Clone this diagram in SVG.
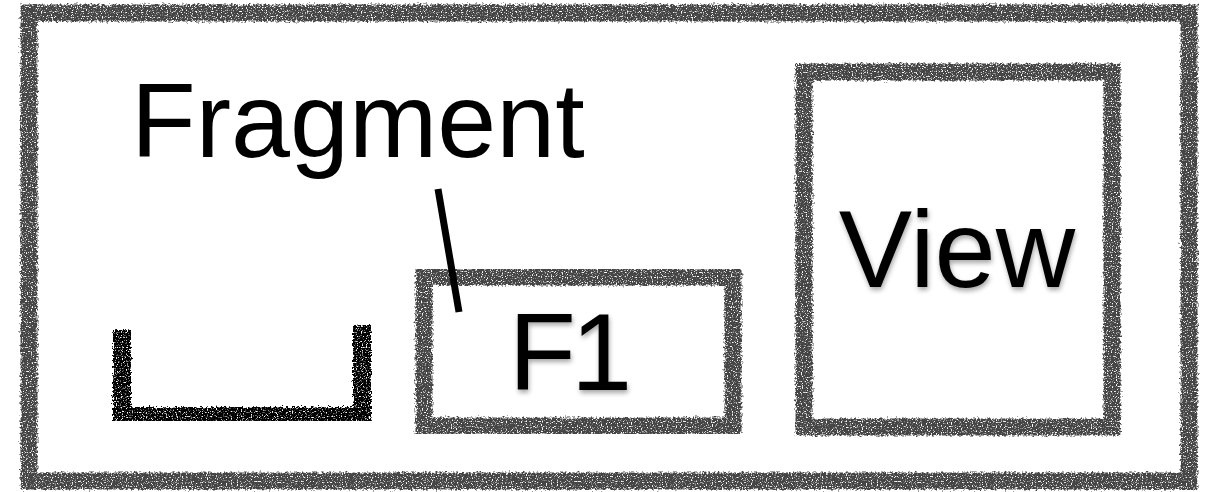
<svg xmlns="http://www.w3.org/2000/svg" width="1210" height="492" viewBox="0 0 1210 492">
  <defs>
    <!-- chalky, ragged stroke edges -->
    <filter id="chalk" x="-5%" y="-5%" width="110%" height="110%">
      <feTurbulence type="fractalNoise" baseFrequency="0.45" numOctaves="2" seed="3" result="noise"/>
      <feDisplacementMap in="SourceGraphic" in2="noise" scale="6" xChannelSelector="R" yChannelSelector="G" result="rough"/>
      <feTurbulence type="fractalNoise" baseFrequency="0.8" numOctaves="1" seed="7" result="grain"/>
      <feColorMatrix in="grain" type="matrix" values="0 0 0 0 0  0 0 0 0 0  0 0 0 0 0  0 0 0 -6 4.3" result="mask"/>
      <feComposite in="rough" in2="mask" operator="in"/>
    </filter>
    <filter id="soft" x="-10%" y="-10%" width="120%" height="130%">
      <feGaussianBlur in="SourceAlpha" stdDeviation="2.5"/>
      <feOffset dx="1" dy="3" result="b"/>
      <feComponentTransfer><feFuncA type="linear" slope="0.35"/></feComponentTransfer>
      <feMerge><feMergeNode/><feMergeNode in="SourceGraphic"/></feMerge>
    </filter>
  </defs>
  <style>
    .box { fill: none; stroke: #444; stroke-width: 17; filter: url(#chalk); }
    .label { font-family: "Liberation Sans", Arial, sans-serif; fill: #000; }
  </style>
  <rect width="1210" height="492" fill="#fff"/>

  <g id="activity">
    <rect class="box" x="29" y="13" width="1160" height="468"/>
  </g>

  <g id="container">
    <path d="M122 330 L122 416 L362 416 L362 325" fill="none" stroke="#000" stroke-width="18" filter="url(#chalk)"/>
  </g>

  <g id="fragment-label">
    <text class="label" x="131" y="157" font-size="106">Fragment</text>
  </g>

  <g id="f1">
    <rect class="box" x="424" y="277" width="309" height="149"/>
    <text class="label" x="568" y="390" font-size="110" text-anchor="middle" letter-spacing="-5" filter="url(#soft)">F1</text>
  </g>

  <g id="view">
    <rect class="box" x="804" y="72" width="308" height="355"/>
    <text class="label" x="957" y="287" font-size="110" text-anchor="middle" filter="url(#soft)">View</text>
  </g>

  <g id="connectors">
    <line x1="438" y1="189" x2="459" y2="312" stroke="#000" stroke-width="7"/>
  </g>
</svg>
